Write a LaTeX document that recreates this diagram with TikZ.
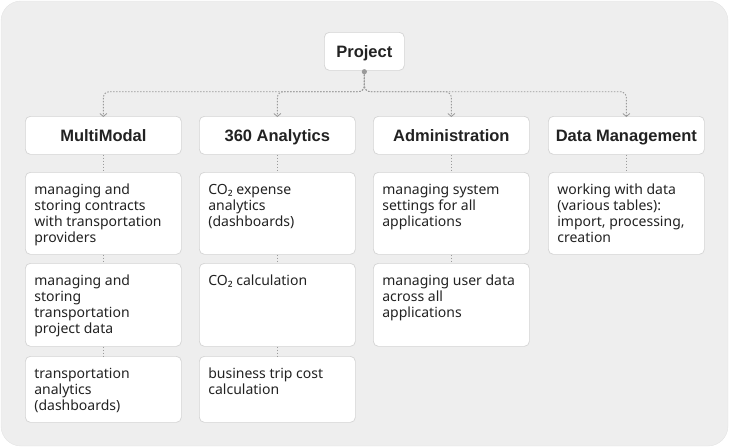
\documentclass[tikz,border=0pt]{standalone}
\usepackage{fontspec}
\setmainfont{Noto Sans}
\newfontfamily\headfont{Liberation Sans}
\usetikzlibrary{arrows.meta}
\definecolor{bgfill}{HTML}{EEEEEE}
\definecolor{bgline}{HTML}{E4E4E4}
\definecolor{cardline}{HTML}{D4D4D4}
\definecolor{linkgray}{HTML}{9A9A9A}
\definecolor{inktext}{HTML}{222222}
\newcommand{\itemtext}[2]{\parbox[t][#1][t]{140pt}{\raggedright\vrule height 12pt depth 0pt width 0pt#2}}
\begin{document}
\begin{tikzpicture}[x=1pt,y=-1pt,
  card/.style={draw=cardline, fill=white, rounded corners=5pt, line width=0.7pt, text=inktext},
  headbox/.style={card, minimum width=156pt, minimum height=38pt, inner sep=0pt,
    text height=12.6pt, text depth=0pt,
    font=\headfont\fontsize{16.5}{19}\selectfont\bfseries, anchor=north west},
  itembox/.style={card, inner xsep=8pt, inner ysep=10pt, anchor=north west,
    font=\fontsize{14}{16}\selectfont, align=left},
  link/.style={draw=linkgray, line width=0.9pt, dash pattern=on 1.5pt off 1.5pt},
  branch/.style={link, rounded corners=6pt, -{Straight Barb[length=3pt,width=7pt,line width=0.8pt]}},
]
\useasboundingbox (0,0) rectangle (729,447);
\fill[bgfill, draw=bgline, rounded corners=20pt] (1,1) rectangle (728,446);

% top node
\node[headbox, minimum width=80pt] (proj) at (324,32) {Project};

% headers
\node[headbox] (mm)  at (25,116)  {MultiModal};
\node[headbox] (an)  at (199,116) {360 Analytics};
\node[headbox] (ad)  at (373,116) {Administration};
\node[headbox] (dm)  at (548,116) {Data Management};

% items
\node[itembox] (mm1) at (25,172)  {\itemtext{62pt}{\hspace*{1pt}managing and\\\hspace*{1pt}storing contracts\\\hspace*{1pt}with transportation\\\hspace*{1pt}providers}};
\node[itembox] (mm2) at (25,263)  {\itemtext{63pt}{\hspace*{1pt}managing and\\\hspace*{1pt}storing\\\hspace*{1pt}transportation\\\hspace*{1pt}project data}};
\node[itembox] (mm3) at (25,356)  {\itemtext{46pt}{\hspace*{1pt}transportation\\\hspace*{1pt}analytics\\\hspace*{1pt}(dashboards)}};

\node[itembox] (an1) at (199,172) {\itemtext{62pt}{\hspace*{1pt}CO₂ expense\\\hspace*{1pt}analytics\\\hspace*{1pt}(dashboards)}};
\node[itembox] (an2) at (199,263) {\itemtext{63pt}{\hspace*{1pt}CO₂ calculation}};
\node[itembox] (an3) at (199,356) {\itemtext{46pt}{\hspace*{1pt}business trip cost\\\hspace*{1pt}calculation}};

\node[itembox] (ad1) at (373,172) {\itemtext{62pt}{\hspace*{1pt}managing system\\\hspace*{1pt}settings for all\\\hspace*{1pt}applications}};
\node[itembox] (ad2) at (373,263) {\itemtext{63pt}{\hspace*{1pt}managing user data\\\hspace*{1pt}across all\\\hspace*{1pt}applications}};

\node[itembox] (dm1) at (548,172) {\itemtext{62pt}{\hspace*{1pt}working with data\\\hspace*{1pt}(various tables):\\\hspace*{1pt}import, processing,\\\hspace*{1pt}creation}};

% branches from project
\coordinate (hub) at ([yshift=-1pt]proj.south);
\draw[branch] (hub) -- ++(0,20) -| ([yshift=-1pt]mm.north);
\draw[branch] (hub) -- ++(0,20) -| ([yshift=-1pt]an.north);
\draw[branch] (hub) -- ++(0,20) -| ([yshift=-1pt]ad.north);
\draw[branch] (hub) -- ++(0,20) -| ([yshift=-1pt]dm.north);
\fill[linkgray] (hub) circle (2.6pt);

% column links
\draw[link] (mm.south) -- (mm1.north);
\draw[link] (mm1.south) -- (mm2.north);
\draw[link] (mm2.south) -- (mm3.north);
\draw[link] (an.south) -- (an1.north);
\draw[link] (an1.south) -- (an2.north);
\draw[link] (an2.south) -- (an3.north);
\draw[link] (ad.south) -- (ad1.north);
\draw[link] (ad1.south) -- (ad2.north);
\draw[link] (dm.south) -- (dm1.north);
\end{tikzpicture}
\end{document}
